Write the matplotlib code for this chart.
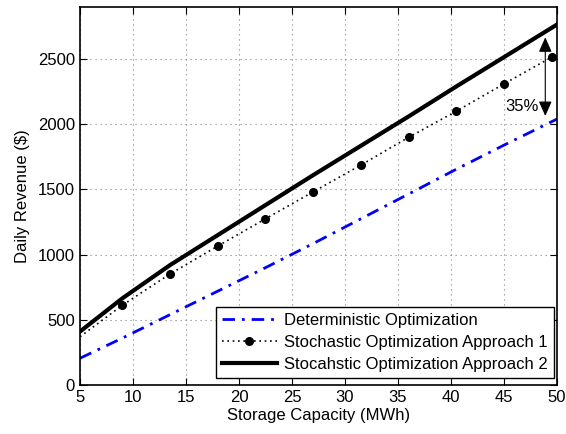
import matplotlib
matplotlib.use("Agg")
import matplotlib.pyplot as plt

plt.rcParams['font.family'] = ['Liberation Sans', 'DejaVu Sans']

# storage capacity (MWh)
capacity = [5, 9, 13.5, 18, 22.5, 27, 31.5, 36, 40.5, 45, 49.5, 50]
# daily revenue ($)
deterministic = [205, 360, 540, 720, 900, 1085, 1275, 1465, 1655, 1840, 2020, 2040]
stochastic_1 = [370, 612, 852, 1066, 1275, 1482, 1687, 1900, 2100, 2310, 2515, 2535]
stochastic_2 = [410, 665, 920, 1150, 1380, 1610, 1835, 2060, 2290, 2515, 2740, 2765]

labels = ['Deterministic Optimization',
          'Stochastic Optimization Approach 1',
          'Stocahstic Optimization Approach 2']

fig = plt.figure(figsize=(5.66, 4.34), dpi=100)
ax = fig.add_axes([0.1413, 0.1129, 0.8427, 0.871])

ax.plot(capacity, deterministic, color='#0000ff', lw=2,
        linestyle=(0, (4.5, 2.5, 1, 2.5)), label=labels[0])
ax.plot(capacity, stochastic_1, color='black', lw=1.2,
        linestyle=(0, (1, 2.2)), marker='o', markersize=5.5,
        markevery=list(range(1, 11)), label=labels[1])
ax.plot(capacity, stochastic_2, color='black', lw=3, label=labels[2])

ax.set_xlim(5, 50)
ax.set_ylim(0, 2900)
ax.set_xticks(range(5, 51, 5))
ax.set_yticks(range(0, 2501, 500))
ax.grid(True, color='#808080', linestyle=(0, (1, 3.5)), lw=0.8)
ax.tick_params(direction='in', top=True, right=True, labelsize=12, length=5)
for s in ax.spines.values():
    s.set_linewidth(1.2)

ax.set_xlabel('Storage Capacity (MWh)', fontsize=12, labelpad=2)
ax.set_ylabel('Daily Revenue ($)', fontsize=12, labelpad=6)

# 35% gap annotation
ax.annotate('', xy=(48.9, 2667), xytext=(48.9, 2064),
            arrowprops=dict(arrowstyle='<|-|>,head_length=0.9,head_width=0.4',
                            color='black', lw=0.8, shrinkA=0, shrinkB=0))
ax.text(46.7, 2135, '35%', fontsize=12, ha='center', va='center')

leg = ax.legend(loc='lower right', bbox_to_anchor=(0.9937, 0.0185),
                fontsize=12, fancybox=False, framealpha=1, edgecolor='black',
                handlelength=3.3, handletextpad=0.45, borderpad=0.35,
                labelspacing=0.42, borderaxespad=0)
leg.get_frame().set_linewidth(1.0)

fig.savefig('out.png', dpi=100)
